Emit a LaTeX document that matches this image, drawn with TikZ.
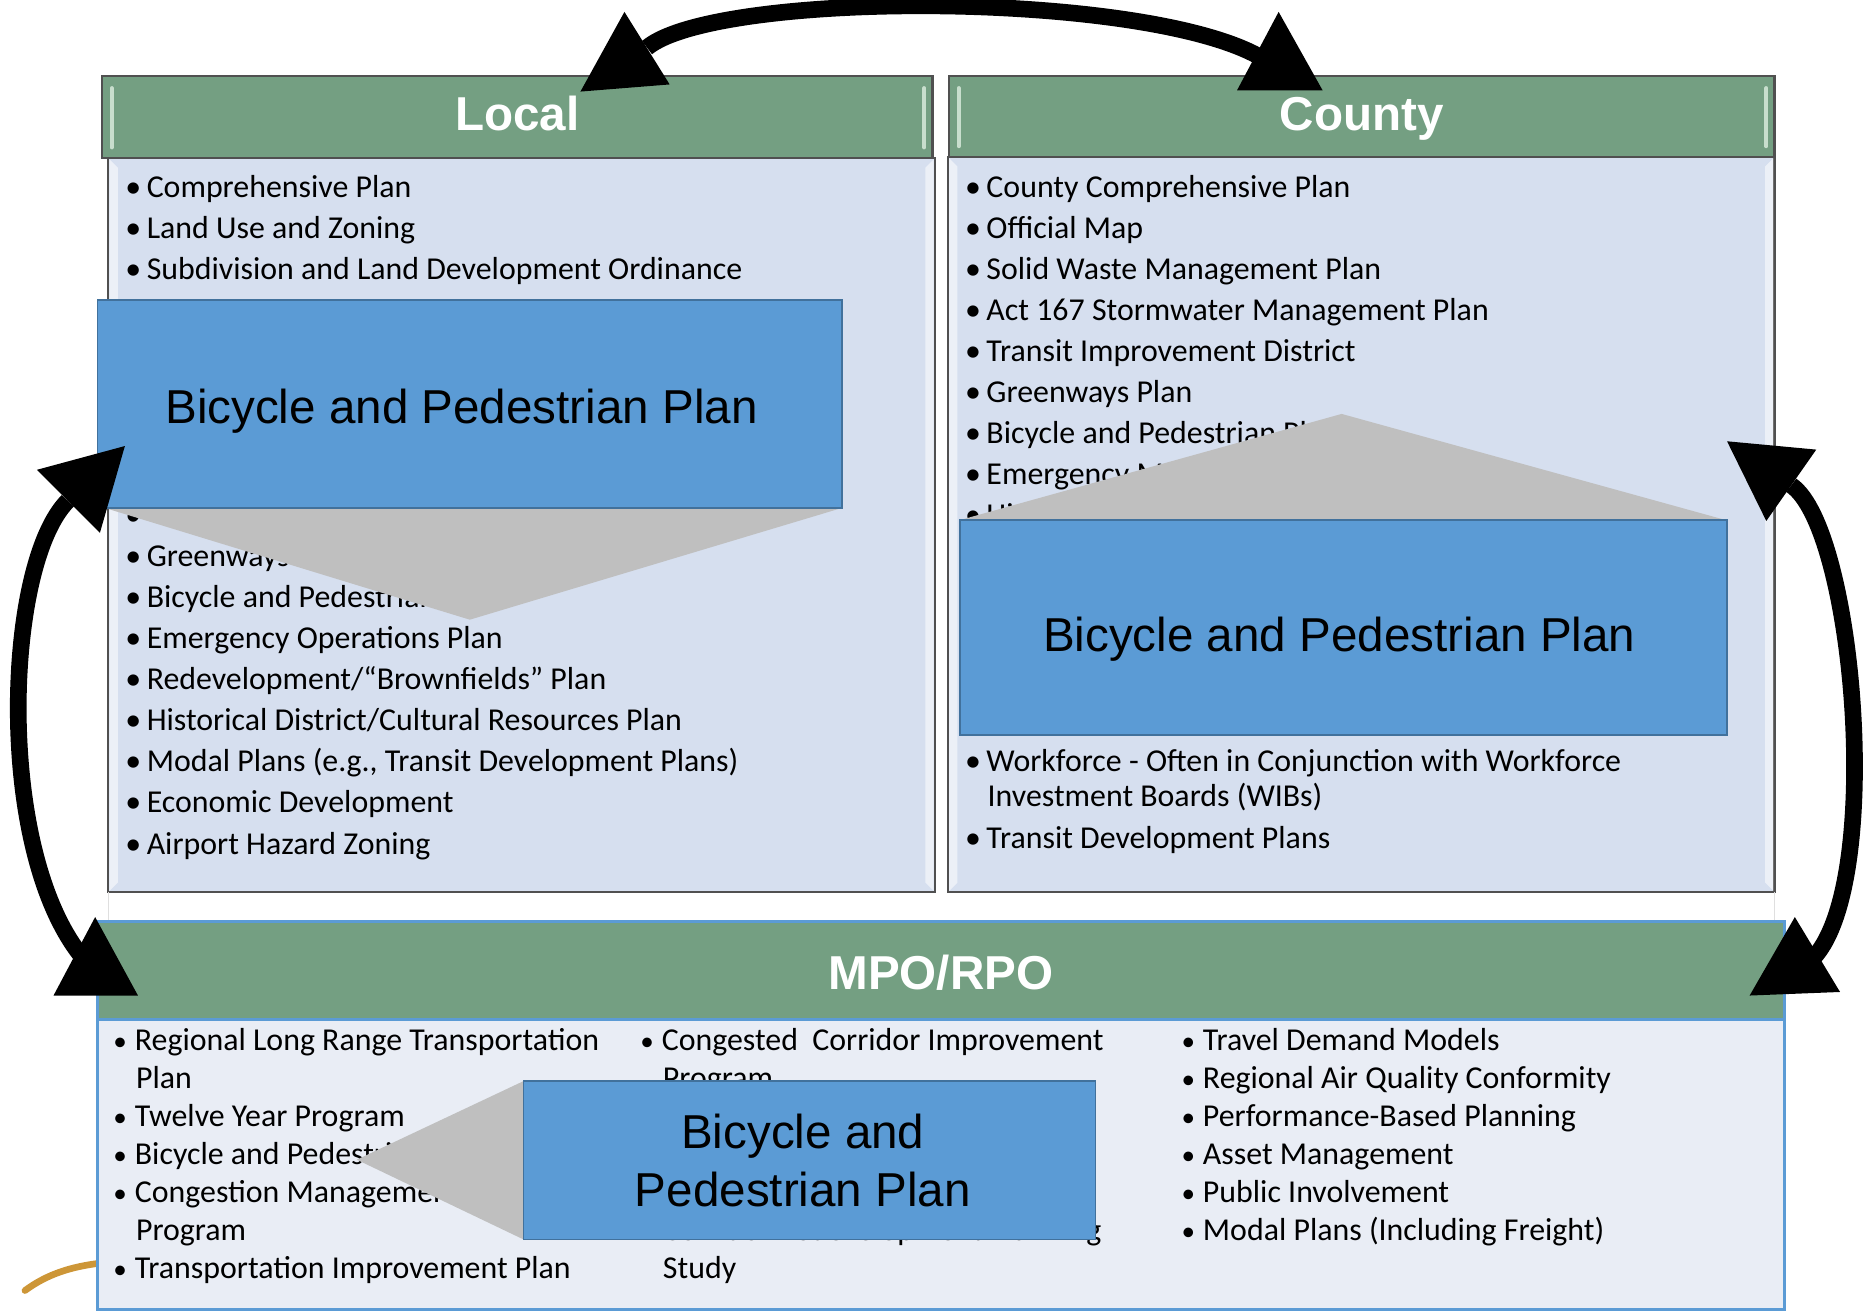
\documentclass[tikz,border=0pt]{standalone}
\usepackage{fontspec}
\usepackage{graphicx}
\setmainfont{Carlito}
\newfontfamily\arialfont{Liberation Sans}

\definecolor{hdrgreen}{RGB}{116,159,130}
\definecolor{hdrlight}{RGB}{200,222,205}
\definecolor{hdredge}{RGB}{80,80,80}
\definecolor{bodyblue}{RGB}{214,223,239}
\definecolor{mpobody}{RGB}{233,237,245}
\definecolor{mpoedge}{RGB}{91,155,213}
\definecolor{bikeblue}{RGB}{91,155,213}
\definecolor{bikeedge}{RGB}{65,113,156}
\definecolor{chevgray}{RGB}{191,191,191}
\definecolor{swoosh}{RGB}{205,150,55}

\newcommand{\bul}[1]{\makebox[9pt][l]{\textbullet}#1}
\newcommand{\mbul}[1]{\makebox[9pt][l]{\scalebox{0.85}{\textbullet}}#1}

\begin{document}
\begin{tikzpicture}[x=0.5pt, y=-0.5pt,
    hdr/.style={fill=hdrgreen, draw=hdredge, line width=1pt},
    box/.style={fill=bodyblue, draw=hdredge, line width=1pt},
    mpobox/.style={draw=mpoedge, line width=1.2pt},
    bikebox/.style={fill=bikeblue, draw=bikeedge, line width=0.7pt},
    chev/.style={fill=chevgray},
    bevel/.style={fill=white, opacity=0.55},
    hbar/.style={draw=hdrlight, line width=1.6pt, line cap=round},
    item/.style={anchor=base west, inner sep=0pt, font=\fontsize{13.4}{16}\selectfont},
    ttl/.style={anchor=base, inner sep=0pt, text=white, font=\arialfont\bfseries\fontsize{20}{24}\selectfont},
    big/.style={anchor=base, inner sep=0pt, font=\arialfont\fontsize{20}{24}\selectfont},
    shaft/.style={line width=7pt},
    head/.style={fill=black}]

\useasboundingbox (0,0) rectangle (1568,1102);

% local and county panels
\draw[box] (91,133) rectangle (786,750);
\draw[box] (797,132) rectangle (1492,750);
\fill[bevel] (92,134) -- (99,141) -- (99,742) -- (92,749) -- cycle;
\fill[bevel] (785,134) -- (778,141) -- (778,742) -- (785,749) -- cycle;
\fill[bevel] (798,133) -- (805,140) -- (805,742) -- (798,749) -- cycle;
\fill[bevel] (1491,133) -- (1484,140) -- (1484,742) -- (1491,749) -- cycle;
\draw[gray!25] (91,750) -- (91,775) (1492,750) -- (1492,775);

% local list
\foreach \y/\t [count=\i] in {166/Comprehensive Plan, 200.5/Land Use and Zoning,
    235/Subdivision and Land Development Ordinance, 476.5/Greenways Plan,
    511/Bicycle and Pedestrian Plan, 545.5/Emergency Operations Plan,
    580/{Redevelopment/“Brownfields” Plan}, 614.5/{Historical District/Cultural Resources Plan},
    649/{Modal Plans (e.g., Transit Development Plans)}, 683.5/Economic Development,
    718/Airport Hazard Zoning}
  \node[item] (loc\i) at (105,\y) {\bul{\t}};
\node[item] (locdot) at (105,442) {\textbullet};

% county list
\foreach \y/\t [count=\i] in {166/County Comprehensive Plan, 200.5/Official Map,
    235/Solid Waste Management Plan, 269.5/Act 167 Stormwater Management Plan,
    304/Transit Improvement District, 338.5/Greenways Plan,
    373/Bicycle and Pedestrian Plan, 407.5/Emergency Management Plan,
    442/Historic Preservation Plan, 649/Workforce - Often in Conjunction with Workforce,
    713/Transit Development Plans}
  \node[item] (cty\i) at (811,\y) {\bul{\t}};
\node[item] (cty10b) at (830,678) {Investment Boards (WIBs)};

% bike and ped, local + county
\fill[chev] (88,427) -- (708,427) -- (395,521) -- cycle;
\draw[bikebox] (82,252) rectangle (708,427);
\node[big] (bikeL) at (388,356) {Bicycle and Pedestrian Plan};

\fill[chev] (808,437) -- (1128,348) -- (1450,437) -- cycle;
\draw[bikebox] (807,437) rectangle (1452,618);
\node[big] (bikeC) at (1126,548) {Bicycle and Pedestrian Plan};

% headers
\draw[hdr] (86,64) rectangle (784,133);
\draw[hbar] (94,74) -- (94,124) (777,74) -- (777,124);
\node[ttl] (local) at (435,110) {Local};

\draw[hdr] (798,64) rectangle (1492,132);
\draw[hbar] (806,74) -- (806,123) (1485,74) -- (1485,123);
\node[ttl] (county) at (1145,110) {County};

% mpo/rpo
\draw[swoosh, line width=2.8pt, line cap=round] (21,1085) .. controls (40,1071) and (60,1065) .. (84,1062);
\draw[mpobox, fill=mpobody] (82,857) rectangle (1500,1101);
\draw[mpobox, fill=hdrgreen] (82,775) rectangle (1500,857);
\node[ttl] (mpo) at (791,832) {MPO/RPO};

\foreach \y/\t [count=\i] in {883/Regional Long Range Transportation, 947/Twelve Year Program,
    979/Bicycle and Pedestrian Plan, 1011/Congestion Management,
    1075/Transportation Improvement Plan}
  \node[item] (mpa\i) at (95,\y) {\mbul{\t}};
\node[item] (mpa1b) at (114,915) {Plan};
\node[item] (mpa4b) at (114,1043) {Program};

\node[item] (mpb1) at (538,883) {\mbul{Congested\ \ Corridor Improvement}};
\node[item] (mpb1b) at (557,915) {Program};
\node[item] (mpb2) at (557,1043) {Corridor Redevelopment Planning};
\node[item] (mpb2b) at (557,1075) {Study};

\foreach \y/\t [count=\i] in {883/Travel Demand Models, 915/Regional Air Quality Conformity,
    947/Performance-Based Planning, 979/Asset Management,
    1011/Public Involvement, 1043/Modal Plans (Including Freight)}
  \node[item] (mpc\i) at (993,\y) {\mbul{\t}};

\fill[chev] (440,909) -- (300,975) -- (440,1042) -- cycle;
\draw[bikebox] (440,909) rectangle (921,1042);
\node[big] (bikeM) at (675,966) {Bicycle and};
\node[big] (bikeM2) at (675,1014) {Pedestrian Plan};

% arrows
\coordinate (topL) at (544,40);
\coordinate (topR) at (1070,55);
\draw[shaft] (topL) .. controls (605,-10) and (990,-8) .. (topR);
\fill[head] (488,77) -- (525,10) -- (563,71) -- cycle;
\fill[head] (1075,10) -- (1040,76) -- (1112,76) -- cycle;

\coordinate (lftT) at (57,421);
\coordinate (lftB) at (72,808);
\draw[shaft] (lftT) .. controls (3,475) and (-5,720) .. (lftB);
\fill[head] (105,375) -- (31,395) -- (84,448) -- cycle;
\fill[head] (80,771) -- (45,837) -- (116,837) -- cycle;

\coordinate (rgtT) at (1506,408);
\coordinate (rgtB) at (1522,808);
\draw[shaft] (rgtT) .. controls (1560,445) and (1585,750) .. (rgtB);
\fill[head] (1452,371) -- (1527,378) -- (1485,438) -- cycle;
\fill[head] (1509,771) -- (1471,837) -- (1547,834) -- cycle;

\end{tikzpicture}
\end{document}
